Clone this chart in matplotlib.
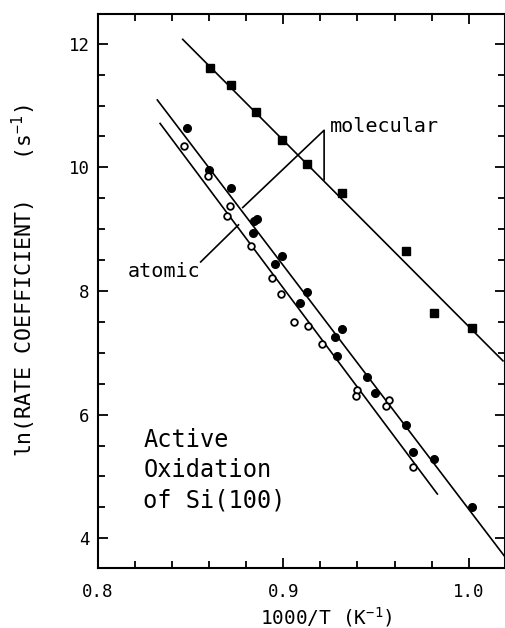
import matplotlib
matplotlib.use("Agg")
import matplotlib.pyplot as plt
from matplotlib.ticker import MultipleLocator, FixedLocator

plt.rcParams['font.family'] = ['DejaVu Sans Mono', 'DejaVu Sans']
plt.rcParams['mathtext.fontset'] = 'custom'
plt.rcParams['mathtext.rm'] = 'DejaVu Sans Mono'
plt.rcParams['mathtext.default'] = 'regular'

# molecular oxygen (filled squares)
mol_x = [0.8606, 0.8719, 0.8853, 0.8991, 0.9127, 0.9314, 0.9663, 0.9812, 1.0018]
mol_y = [11.60, 11.33, 10.90, 10.45, 10.05, 9.59, 8.65, 7.65, 7.40]

# atomic oxygen, filled circles
atf_x = [0.8480, 0.8600, 0.8719, 0.8843, 0.8860, 0.8839, 0.8955, 0.8991, 0.9088,
         0.9127, 0.9280, 0.9314, 0.9289, 0.9453, 0.9493, 0.9663, 0.9701, 0.9812, 1.0018]
atf_y = [10.64, 9.95, 9.66, 9.13, 9.16, 8.93, 8.43, 8.57, 7.81,
         7.99, 7.26, 7.38, 6.95, 6.61, 6.35, 5.83, 5.40, 5.28, 4.50]

# atomic oxygen, open circles
ato_x = [0.8466, 0.8595, 0.8710, 0.8694, 0.8828, 0.8941, 0.8987, 0.9059,
         0.9134, 0.9210, 0.9396, 0.9392, 0.9568, 0.9552, 0.9701]
ato_y = [10.34, 9.86, 9.38, 9.22, 8.73, 8.21, 7.95, 7.50,
         7.44, 7.15, 6.40, 6.30, 6.24, 6.14, 5.15]

# fitted lines (end points)
mol_fit_x = [0.8457, 1.0185]
mol_fit_y = [12.07, 6.87]
atf_fit_x = [0.8320, 1.0196]
atf_fit_y = [11.09, 3.70]
ato_fit_x = [0.8335, 0.9831]
ato_fit_y = [10.71, 4.717]

# label leaders
mol_lead_x = [0.8781, 0.9220, 0.9220]
mol_lead_y = [9.35, 10.60, 9.80]
at_lead_x = [0.8554, 0.8758]
at_lead_y = [8.47, 9.07]

fig = plt.figure(figsize=(5.06, 6.28), dpi=100)
ax = fig.add_axes([98 / 506, 60 / 628, 407 / 506, 554 / 628])

lw = 1.2
ax.plot(mol_fit_x, mol_fit_y, color='black', lw=lw)
ax.plot(atf_fit_x, atf_fit_y, color='black', lw=lw)
ax.plot(ato_fit_x, ato_fit_y, color='black', lw=lw)
ax.plot(mol_lead_x, mol_lead_y, color='black', lw=lw)
ax.plot(at_lead_x, at_lead_y, color='black', lw=lw)

ax.plot(mol_x, mol_y, 's', color='black', ms=5.5)
ax.plot(atf_x, atf_y, 'o', color='black', ms=5.5)
ax.plot(ato_x, ato_y, 'o', mfc='white', mec='black', ms=4.8, mew=1.3)

ax.text(0.9250, 10.66, 'molecular', fontsize=14.5, ha='left', va='center')
ax.text(0.8158, 8.31, 'atomic', fontsize=14.5, ha='left', va='center')
ax.text(0.8245, 5.105, 'Active\nOxidation\nof Si(100)', fontsize=17,
        ha='left', va='center', linespacing=1.32)

ax.set_xlim(0.8, 1.0196)
ax.set_ylim(3.52, 12.48)

ax.xaxis.set_major_locator(FixedLocator([0.8, 0.9, 1.0]))
ax.xaxis.set_minor_locator(MultipleLocator(0.02))
ax.yaxis.set_major_locator(FixedLocator([4, 6, 8, 10, 12]))
ax.yaxis.set_minor_locator(MultipleLocator(0.5))
ax.set_xticklabels(['0.8', '0.9', '1.0'])
ax.set_yticklabels(['4', '6', '8', '10', '12'])

ax.tick_params(which='both', direction='in', top=True, right=True,
               width=1.3, labelsize=12.5)
ax.tick_params(which='major', length=7.5)
ax.tick_params(which='minor', length=5)
ax.tick_params(axis='x', pad=11)
ax.tick_params(axis='y', pad=6)
for s in ax.spines.values():
    s.set_linewidth(1.5)

ax.set_xlabel('1000/T (K$^{-1}$)', fontsize=14)
ax.xaxis.set_label_coords(0.56, -0.088)
ax.xaxis.label.set_va('center')
ax.set_ylabel('ln(RATE COEFFICIENT)   (s$^{-1}$)', fontsize=15.5)
ax.yaxis.set_label_coords(-0.183, 0.519)
ax.yaxis.label.set_va('center')

fig.savefig('out.png', dpi=100)
